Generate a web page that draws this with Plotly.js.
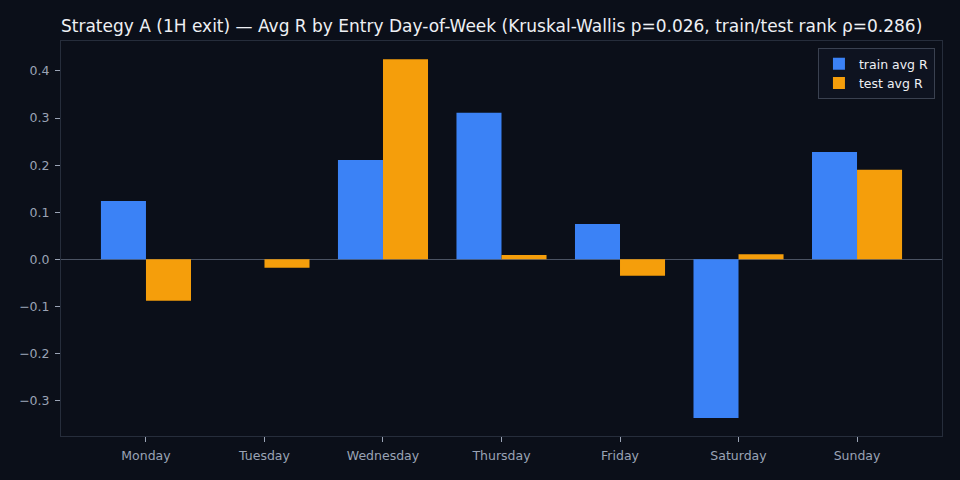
<!DOCTYPE html>
<html>
<head>
<meta charset="utf-8">
<script src="https://cdn.plot.ly/plotly-3.0.1.min.js"></script>
<style>
  html, body { margin: 0; padding: 0; background: #0b0f19; }
  #myDiv { width: 960px; height: 480px; }
</style>
</head>
<body>
<div id="myDiv"></div>
<script>
var days = ['Monday', 'Tuesday', 'Wednesday', 'Thursday', 'Friday', 'Saturday', 'Sunday'];
var trainAvgR = [0.124, 0.0, 0.211, 0.311, 0.075, -0.337, 0.228];
var testAvgR = [-0.088, -0.018, 0.425, 0.009, -0.035, 0.011, 0.190];
var yTicks = [-0.3, -0.2, -0.1, 0.0, 0.1, 0.2, 0.3, 0.4];
var yTickText = ['\u22120.3', '\u22120.2', '\u22120.1', '0.0', '0.1', '0.2', '0.3', '0.4'];

var trace1 = {
    x: days,
    y: trainAvgR,
    name: 'train avg R',
    type: 'bar',
    marker: { color: '#3b82f6' }
};

var trace2 = {
    x: days,
    y: testAvgR,
    name: 'test avg R',
    type: 'bar',
    marker: { color: '#f59e0b' }
};

var data = [trace1, trace2];

var layout = {
    width: 960,
    height: 480,
    paper_bgcolor: '#0b0f19',
    plot_bgcolor: '#0b0f19',
    font: { family: 'DejaVu Sans', size: 12.5, color: '#9aa3b5' },
    margin: { l: 61, r: 18, t: 41, b: 44 },
    barmode: 'group',
    bargap: 0.24,
    bargroupgap: 0,
    title: {
        text: 'Strategy A (1H exit) \u2014 Avg R by Entry Day-of-Week (Kruskal-Wallis p=0.026, train/test rank \u03c1=0.286)',
        font: { family: 'DejaVu Sans', size: 17, color: '#eef0f4' },
        x: 61 / 960,
        xanchor: 'left',
        y: 1 - 26 / 480,
        yanchor: 'middle'
    },
    xaxis: {
        range: [-0.717, 6.717],
        showgrid: false,
        zeroline: false,
        showline: true,
        mirror: true,
        linecolor: '#262d3b',
        linewidth: 1,
        ticks: 'outside',
        ticklen: 5,
        tickcolor: '#9aa3b5',
        ticklabelstandoff: 3,
        tickfont: { size: 12.5, color: '#9aa3b5' }
    },
    yaxis: {
        range: [-0.375, 0.4635],
        tickvals: yTicks,
        ticktext: yTickText,
        showgrid: false,
        zeroline: true,
        zerolinecolor: '#4b5363',
        zerolinewidth: 1,
        showline: true,
        mirror: true,
        linecolor: '#262d3b',
        linewidth: 1,
        ticks: 'outside',
        ticklen: 5,
        tickcolor: '#9aa3b5',
        ticklabelstandoff: 3,
        tickfont: { size: 12.5, color: '#9aa3b5' }
    },
    legend: {
        x: 0.992,
        xanchor: 'right',
        y: 0.982,
        yanchor: 'top',
        bgcolor: '#0e1320',
        bordercolor: '#3a4150',
        borderwidth: 1,
        itemwidth: 30,
        font: { size: 12.5, color: '#eef0f4' }
    },
    showlegend: true
};

Plotly.newPlot('myDiv', data, layout, { displayModeBar: false, staticPlot: true });
</script>
</body>
</html>
